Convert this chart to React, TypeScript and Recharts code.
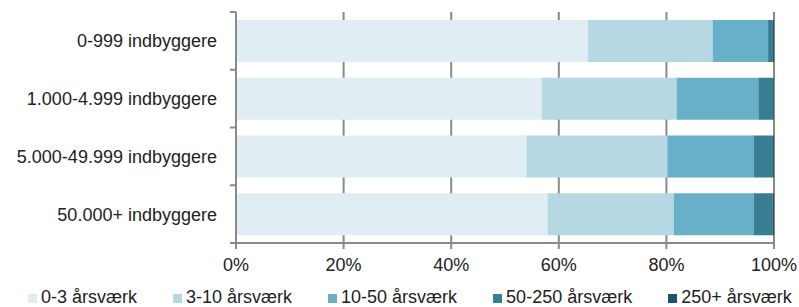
import React from 'react';
import { BarChart, Bar, XAxis, YAxis, CartesianGrid, Legend } from 'recharts';

// Kommunestørrelse (kategorier) og andel virksomheder pr. størrelsesklasse (%)
const CATEGORIES = ['0-999 indbyggere', '1.000-4.999 indbyggere', '5.000-49.999 indbyggere', '50.000+ indbyggere'];
const SERIES = ['0-3 årsværk', '3-10 årsværk', '10-50 årsværk', '50-250 årsværk', '250+ årsværk'];
const VALUES_0_3 = [65.4, 56.8, 54.0, 57.9];
const VALUES_3_10 = [23.2, 25.1, 26.2, 23.5];
const VALUES_10_50 = [10.3, 15.2, 16.0, 14.8];
const VALUES_50_250 = [0.9, 2.8, 3.6, 3.5];
const VALUES_250 = [0.2, 0.1, 0.2, 0.3];
const X_TICKS = [0, 20, 40, 60, 80, 100];

const SERIES_VALUES = [VALUES_0_3, VALUES_3_10, VALUES_10_50, VALUES_50_250, VALUES_250];
const COLORS = ['#e0eef4', '#b5d8e3', '#68afc8', '#377d93', '#215466'];

const W = 799;
const H = 307;
const MARGIN = { top: 12, right: 25, left: 0, bottom: 0 };
const X_AXIS_H = 28;
const LEGEND_H = 36;
const FONT = '"Liberation Sans", Arial, sans-serif';
const FONT_SIZE = 18;
const AXIS_GRAY = '#8a8a8a';

const data = CATEGORIES.map((name, i) => {
  const row: Record<string, string | number> = { name };
  SERIES.forEach((s, j) => {
    row[s] = SERIES_VALUES[j][i];
  });
  return row;
});

const HALF_BAND = (H - MARGIN.top - MARGIN.bottom - X_AXIS_H - LEGEND_H) / CATEGORIES.length / 2;

// y-akse label + små tick-streger ved kategorigrænserne
function CategoryTick(props: any) {
  const { x, y, payload, index } = props;
  const axisX = 236;
  return (
    <g>
      <line x1={axisX - 6} x2={axisX} y1={y - HALF_BAND} y2={y - HALF_BAND} stroke={AXIS_GRAY} strokeWidth={2} />
      {index === CATEGORIES.length - 1 && (
        <line x1={axisX - 6} x2={axisX} y1={y + HALF_BAND} y2={y + HALF_BAND} stroke={AXIS_GRAY} strokeWidth={2} />
      )}
      <text x={x} y={y} dy="0.355em" textAnchor="end" fill="#222" fontSize={FONT_SIZE} fontFamily={FONT}>
        {payload.value}
      </text>
    </g>
  );
}

function LegendRow() {
  return (
    <div
      style={{
        display: 'flex',
        height: LEGEND_H,
        boxSizing: 'border-box',
        paddingLeft: 28,
        paddingTop: 16,
        fontFamily: FONT,
        fontSize: FONT_SIZE,
        lineHeight: '21px',
        color: '#222',
        whiteSpace: 'nowrap',
      }}
    >
      {SERIES.map((s, i) => (
        <div key={s} style={{ display: 'flex', alignItems: 'baseline', marginRight: 36 }}>
          <span
            style={{
              display: 'inline-block',
              width: 9,
              height: 9,
              marginRight: 4,
              backgroundColor: COLORS[i],
            }}
          />
          {s}
        </div>
      ))}
    </div>
  );
}

export default function App() {
  return (
    <div style={{ position: 'absolute', left: 0, top: 0, width: W, height: H, background: '#fff', overflow: 'hidden' }}>
      <BarChart width={W} height={H} data={data} layout="vertical" margin={MARGIN} barSize={42}>
        <CartesianGrid horizontal={false} stroke={AXIS_GRAY} strokeWidth={2} />
        <XAxis
          type="number"
          domain={[0, 100]}
          ticks={X_TICKS}
          tickFormatter={(v) => `${v}%`}
          height={X_AXIS_H}
          interval={0}
          stroke={AXIS_GRAY}
          strokeWidth={2}
          tickSize={6}
          tickMargin={9}
          tick={{ fill: '#222', fontSize: FONT_SIZE, fontFamily: FONT }}
        />
        <YAxis
          type="category"
          dataKey="name"
          width={236}
          stroke={AXIS_GRAY}
          strokeWidth={2}
          tickLine={false}
          tickSize={6}
          tickMargin={13}
          interval={0}
          tick={<CategoryTick />}
        />
        <Legend
          verticalAlign="bottom"
          content={<LegendRow />}
          wrapperStyle={{ left: 0, bottom: 0, width: W, height: LEGEND_H }}
        />
        {SERIES.map((s, i) => (
          <Bar key={s} dataKey={s} stackId="a" fill={COLORS[i]} isAnimationActive={false} />
        ))}
      </BarChart>
    </div>
  );
}
